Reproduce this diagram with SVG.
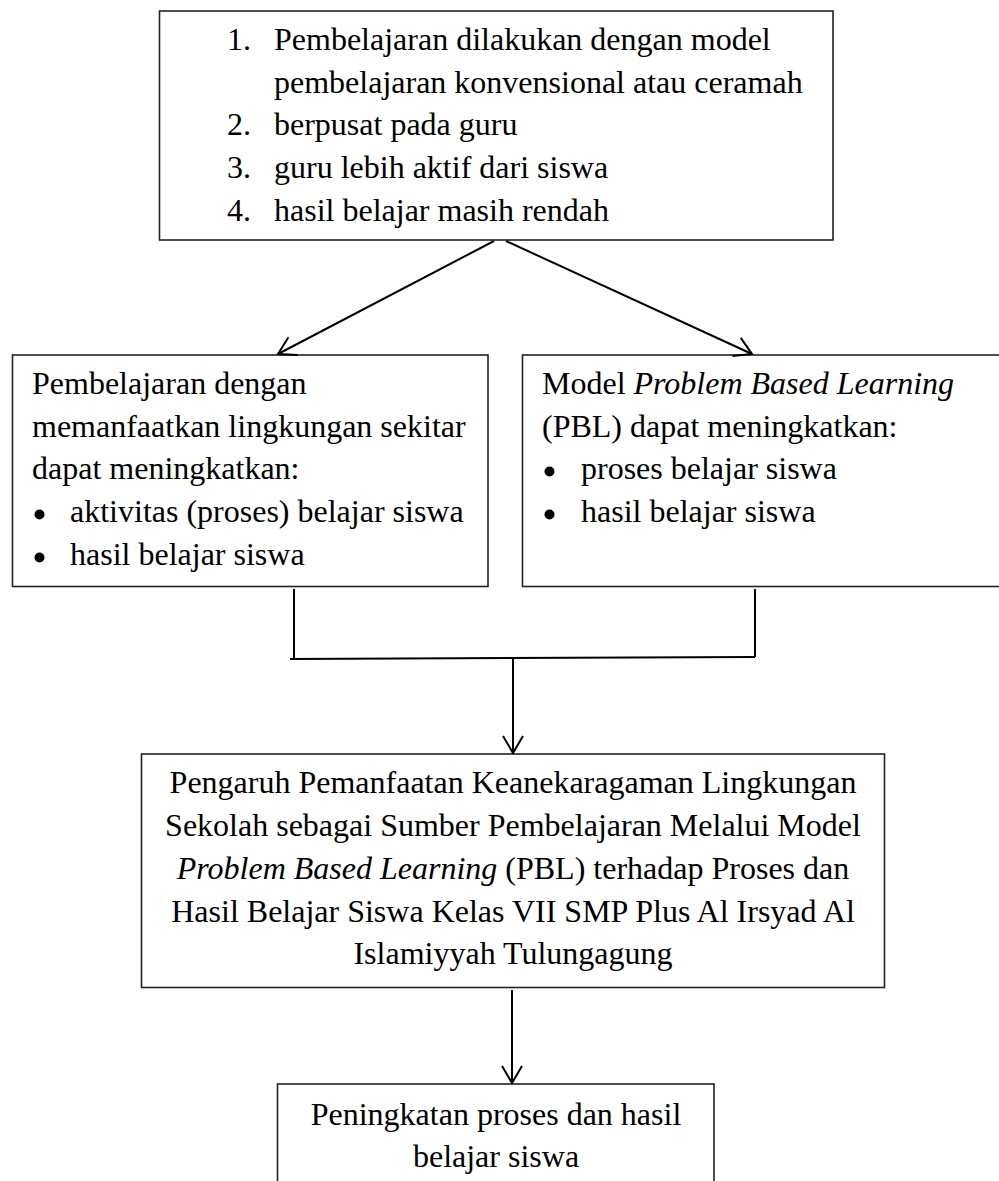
<svg xmlns="http://www.w3.org/2000/svg" width="999" height="1181" viewBox="0 0 999 1181">
<style>
  .box { fill: #fff; stroke: #222; stroke-width: 1.6; }
  .t { font-family: "Liberation Serif", "Times New Roman", serif; font-size: 32px; fill: #000; }
  .c { text-anchor: middle; }
  .i { font-style: italic; }
  .bul { fill: #000; }
  .conn { fill: none; stroke: #000; stroke-width: 2; }
</style>
<defs>
  <marker id="arr" markerWidth="24" markerHeight="24" refX="18" refY="12" orient="auto" markerUnits="userSpaceOnUse">
    <path d="M 1 2 L 18 12 L 1 22" fill="none" stroke="#000" stroke-width="2"/>
  </marker>
</defs>
<rect width="999" height="1181" fill="#fff"/>

<g id="node-top">
  <rect class="box" x="159.5" y="11" width="673.5" height="229"/>
  <text class="t" x="227" y="49.5">1.</text>
  <text class="t" x="274" y="49.5">Pembelajaran dilakukan dengan model</text>
  <text class="t" x="274" y="92.5">pembelajaran konvensional atau ceramah</text>
  <text class="t" x="227" y="135">2.</text>
  <text class="t" x="274" y="135">berpusat pada guru</text>
  <text class="t" x="227" y="178">3.</text>
  <text class="t" x="274" y="178">guru lebih aktif dari siswa</text>
  <text class="t" x="227" y="221">4.</text>
  <text class="t" x="274" y="221">hasil belajar masih rendah</text>
</g>

<g id="node-left">
  <rect class="box" x="12.5" y="355" width="475.5" height="231.5"/>
  <text class="t" x="32" y="393.5">Pembelajaran dengan</text>
  <text class="t" x="32" y="436.5">memanfaatkan lingkungan sekitar</text>
  <text class="t" x="32" y="479">dapat meningkatkan:</text>
  <circle class="bul" cx="39.5" cy="514.5" r="5"/>
  <text class="t" x="70" y="522">aktivitas (proses) belajar siswa</text>
  <circle class="bul" cx="39.5" cy="557.5" r="5"/>
  <text class="t" x="70" y="565">hasil belajar siswa</text>
</g>

<g id="node-right">
  <rect class="box" x="522.5" y="355" width="480" height="231.5"/>
  <text class="t" x="542" y="393.5">Model <tspan class="i">Problem Based Learning</tspan></text>
  <text class="t" x="542" y="436.5">(PBL) dapat meningkatkan:</text>
  <circle class="bul" cx="549.5" cy="471.5" r="5"/>
  <text class="t" x="581" y="479">proses belajar siswa</text>
  <circle class="bul" cx="549.5" cy="514.5" r="5"/>
  <text class="t" x="581" y="522">hasil belajar siswa</text>
</g>

<g id="node-main">
  <rect class="box" x="141.5" y="754" width="743" height="233.5"/>
  <text class="t c" x="513" y="793">Pengaruh Pemanfaatan Keanekaragaman Lingkungan</text>
  <text class="t c" x="513" y="836">Sekolah sebagai Sumber Pembelajaran Melalui Model</text>
  <text class="t c" x="513" y="879"><tspan class="i">Problem Based Learning</tspan> (PBL) terhadap Proses dan</text>
  <text class="t c" x="513" y="921.5">Hasil Belajar Siswa Kelas VII SMP Plus Al Irsyad Al</text>
  <text class="t c" x="513" y="964">Islamiyyah Tulungagung</text>
</g>

<g id="node-bottom">
  <rect class="box" x="277.5" y="1084" width="436.5" height="120"/>
  <text class="t c" x="496" y="1125">Peningkatan proses dan hasil</text>
  <text class="t c" x="496" y="1167">belajar siswa</text>
</g>

<g id="connectors">
  <line class="conn" x1="494" y1="241" x2="278" y2="354" marker-end="url(#arr)"/>
  <line class="conn" x1="506" y1="241" x2="752" y2="354" marker-end="url(#arr)"/>
  <line class="conn" x1="294" y1="589" x2="294" y2="658"/>
  <line class="conn" x1="755" y1="589" x2="755" y2="657"/>
  <line class="conn" x1="290" y1="659" x2="755" y2="657"/>
  <line class="conn" x1="513" y1="659" x2="513" y2="753" marker-end="url(#arr)"/>
  <line class="conn" x1="512" y1="990" x2="512" y2="1083" marker-end="url(#arr)"/>
</g>
</svg>
